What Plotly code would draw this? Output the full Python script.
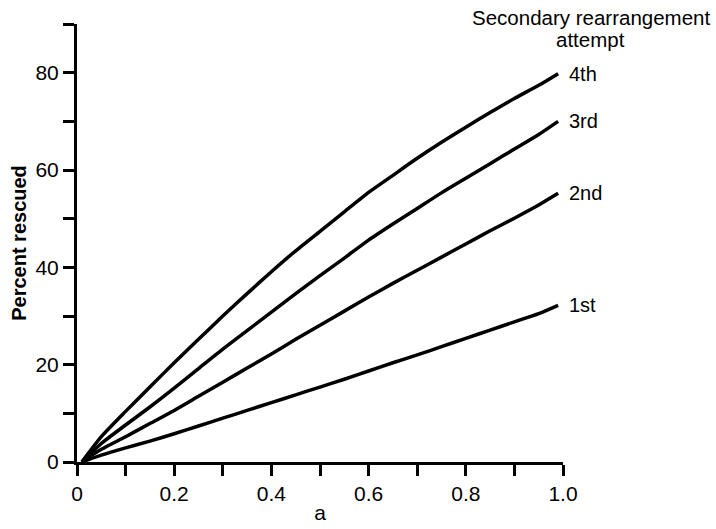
import plotly.graph_objects as go

# Fraction a (x) and percent rescued per secondary rearrangement attempt
a_vals = [0.01, 0.05, 0.10, 0.15, 0.20, 0.25, 0.30, 0.35, 0.40, 0.45, 0.50,
          0.55, 0.60, 0.65, 0.70, 0.75, 0.80, 0.85, 0.90, 0.95, 0.99]
fourth = [0.0, 5.2, 10.4, 15.4, 20.4, 25.2, 30.0, 34.6, 39.1, 43.4, 47.4,
          51.4, 55.4, 58.9, 62.4, 65.7, 68.8, 71.8, 74.7, 77.4, 79.8]
third = [0.0, 3.8, 7.6, 11.3, 15.2, 19.2, 23.2, 27.0, 30.8, 34.6, 38.3,
         41.9, 45.6, 48.9, 52.1, 55.3, 58.3, 61.3, 64.3, 67.3, 70.0]
second = [0.0, 2.6, 5.2, 7.9, 10.6, 13.5, 16.4, 19.3, 22.2, 25.2, 28.1,
          31.0, 33.9, 36.7, 39.4, 42.1, 44.8, 47.5, 50.1, 52.8, 55.2]
first = [0.0, 1.4, 2.9, 4.3, 5.8, 7.4, 9.0, 10.6, 12.2, 13.8, 15.4,
         17.0, 18.7, 20.4, 22.0, 23.7, 25.4, 27.1, 28.8, 30.5, 32.2]

series = [("4th", fourth), ("3rd", third), ("2nd", second), ("1st", first)]

x_ticks = [0.0, 0.1, 0.2, 0.3, 0.4, 0.5, 0.6, 0.7, 0.8, 0.9, 1.0]
x_ticktext = ["0", "", "0.2", "", "0.4", "", "0.6", "", "0.8", "", "1.0"]
y_ticks = [0, 10, 20, 30, 40, 50, 60, 70, 80, 90]
y_ticktext = ["0", "", "20", "", "40", "", "60", "", "80", ""]

FONT = "Liberation Sans, Arial, Helvetica, sans-serif"

fig = go.Figure()
for name, vals in series:
    fig.add_trace(go.Scatter(
        x=a_vals, y=vals, mode="lines", name=name,
        line=dict(color="black", width=3.5, shape="spline", smoothing=0.6),
        showlegend=False, hoverinfo="skip",
    ))
    fig.add_annotation(
        x=a_vals[-1], y=vals[-1], text=name, showarrow=False,
        xanchor="left", yanchor="middle", xshift=9, yshift=0,
        font=dict(family=FONT, size=20, color="black"),
    )

# Two-line heading above the curve labels
for text, ypos in [("Secondary rearrangement", 1.0137), ("attempt", 0.9636)]:
    fig.add_annotation(
        x=1.0576, y=ypos, xref="paper", yref="paper",
        text=text, showarrow=False,
        xanchor="center", yanchor="middle",
        font=dict(family=FONT, size=20.5, color="black"),
    )

fig.update_layout(
    width=716, height=529,
    margin=dict(l=77, r=153, t=24, b=67),
    paper_bgcolor="white", plot_bgcolor="white",
    font=dict(family=FONT, size=21, color="black"),
)
fig.update_xaxes(
    range=[0, 1.0], tickmode="array", tickvals=x_ticks, ticktext=x_ticktext,
    showline=True, linecolor="black", linewidth=3,
    ticks="outside", ticklen=11, tickwidth=2.5, tickcolor="black",
    tickfont=dict(family=FONT, size=21), automargin=False,
    showgrid=False, zeroline=False,
    title=dict(text="a", font=dict(family=FONT, size=21), standoff=2),
)
fig.update_yaxes(
    range=[0, 90], tickmode="array", tickvals=y_ticks, ticktext=y_ticktext,
    showline=True, linecolor="black", linewidth=3,
    ticks="outside", ticklen=11, tickwidth=2.5, tickcolor="black",
    tickfont=dict(family=FONT, size=21), automargin=False,
    showgrid=False, zeroline=False,
    title=dict(text="<b>Percent rescued</b>", font=dict(family=FONT, size=20), standoff=4),
)

fig.write_html("out.html")
